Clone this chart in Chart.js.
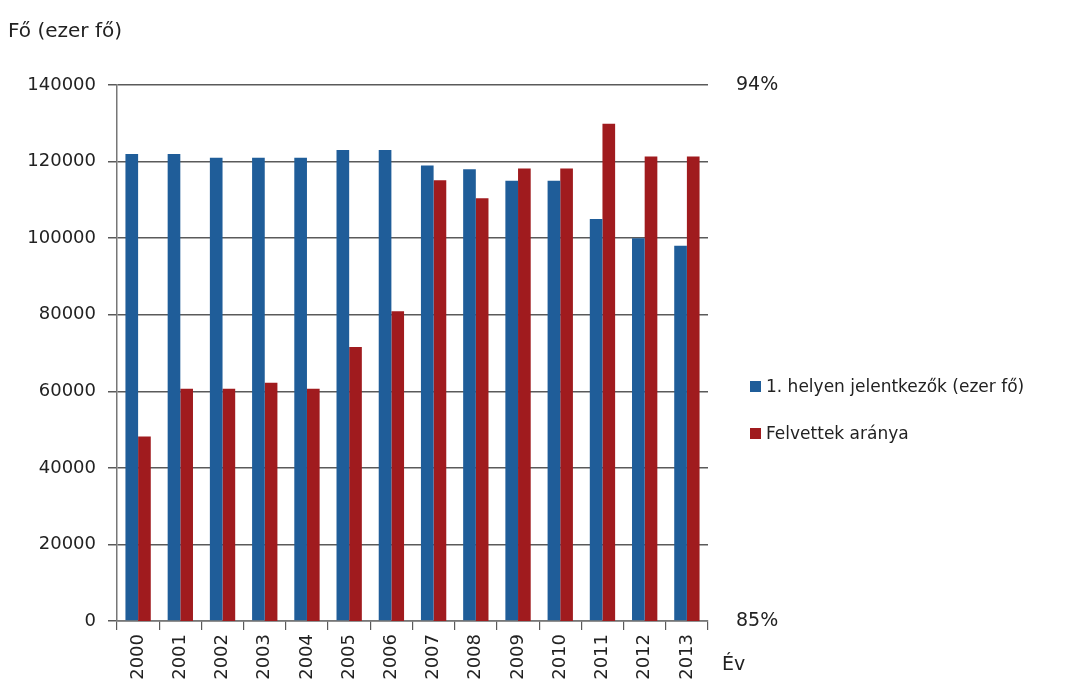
<!DOCTYPE html>
<html>
<head>
<meta charset="utf-8">
<script src="https://cdn.jsdelivr.net/npm/chart.js@4/dist/chart.umd.min.js"></script>
<style>
  html, body { margin: 0; padding: 0; background: #fff; }
  #wrap { position: relative; width: 1092px; height: 691px; overflow: hidden; font-family: "DejaVu Sans", sans-serif; color: #222; }
  #chart { position: absolute; left: 0; top: 0; }
  #ytitle { position: absolute; left: 8px; top: 18px; font-size: 20px; }
  #xtitle { position: absolute; left: 722px; top: 652px; font-size: 19px; }
  #legend { position: absolute; left: 750px; top: 374px; font-size: 17px; }
  .item { display: flex; align-items: center; height: 24px; margin-bottom: 23px; white-space: nowrap; }
  .box { width: 11px; height: 11px; margin-right: 5px; }
</style>
</head>
<body>
<div id="wrap">
  <canvas id="chart" width="1092" height="691"></canvas>
  <div id="ytitle">Fő (ezer fő)</div>
  <div id="xtitle">Év</div>
  <div id="legend"></div>
</div>
<script>
// ─── Data ────────────────────────────────────────────────────────────────────
const YEARS        = ["2000","2001","2002","2003","2004","2005","2006","2007","2008","2009","2010","2011","2012","2013"];
const APPLICANTS   = [122000,122000,121000,121000,121000,123000,123000,119000,118000,115000,115000,105000,100000,98000];
const ADMIT_RATE   = [88.1,88.9,88.9,89.0,88.9,89.6,90.2,92.4,92.1,92.6,92.6,93.35,92.8,92.8];
const LEFT_TICKS   = { min: 0, max: 140000, step: 20000 };
const RIGHT_TICKS  = [85, 94];
const LABEL_APPL   = "1. helyen jelentkezők (ezer fő)";
const LABEL_RATE   = "Felvettek aránya";

// ─── Style ───────────────────────────────────────────────────────────────────
const BLUE  = "#1f5d99";
const RED   = "#a01b1e";
const GRID  = "#5a5a5a";
const FONT  = "'DejaVu Sans', sans-serif";

const chart = new Chart(document.getElementById("chart"), {
    type: "bar",
    data: {
        labels: YEARS,
        datasets: [
            { label: LABEL_APPL, data: APPLICANTS, backgroundColor: BLUE, yAxisID: "y" },
            { label: LABEL_RATE, data: ADMIT_RATE, backgroundColor: RED,  yAxisID: "y1" }
        ]
    },
    options: {
        responsive: false,
        animation: false,
        categoryPercentage: 0.6,
        barPercentage: 1.0,
        layout: { padding: { top: 85, left: 0, right: 0, bottom: 0 } },
        plugins: { legend: { display: false }, tooltip: { enabled: false } },
        scales: {
            x: {
                afterFit: s => { s.height = 70; },
                grid: { drawOnChartArea: false, color: GRID, lineWidth: 1.2, tickLength: 9 },
                border: { color: "#777", width: 1.5 },
                ticks: { minRotation: 90, maxRotation: 90, padding: 4, color: "#222", font: { family: FONT, size: 18 } }
            },
            y: {
                position: "left",
                min: LEFT_TICKS.min, max: LEFT_TICKS.max,
                afterFit: s => { s.width = 117; },
                grid: { color: GRID, lineWidth: 1.5, tickLength: 9 },
                border: { color: "#777", width: 1.5 },
                ticks: { stepSize: LEFT_TICKS.step, padding: 12, color: "#222", font: { family: FONT, size: 18 }, callback: v => String(v) }
            },
            y1: {
                position: "right",
                min: RIGHT_TICKS[0], max: RIGHT_TICKS[RIGHT_TICKS.length - 1],
                afterFit: s => { s.width = 1092 - 708; },
                afterBuildTicks: s => { s.ticks = RIGHT_TICKS.map(v => ({ value: v })); },
                grid: { display: false, drawTicks: false },
                border: { display: false },
                ticks: { padding: 28, color: "#222", font: { family: FONT, size: 19 }, callback: v => v + "%" }
            }
        }
    }
});

// ─── Legend (HTML) ───────────────────────────────────────────────────────────
const legend = document.getElementById("legend");
chart.data.datasets.forEach(ds => {
    const row = document.createElement("div");
    row.className = "item";
    row.innerHTML = `<span class="box" style="background:${ds.backgroundColor}"></span><span>${ds.label}</span>`;
    legend.appendChild(row);
});
</script>
</body>
</html>
